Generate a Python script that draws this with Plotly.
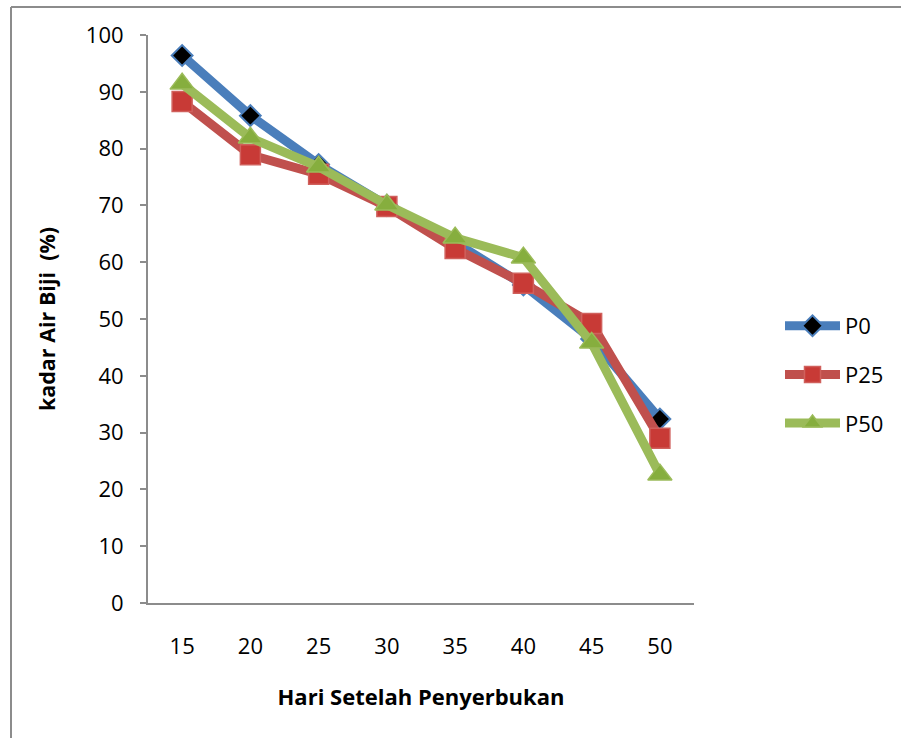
import plotly.graph_objects as go

days = ["15", "20", "25", "30", "35", "40", "45", "50"]
p0 = [96.4, 85.8, 77.2, 70.0, 63.5, 56.0, 46.5, 32.4]
p25 = [88.3, 78.9, 75.5, 69.8, 62.4, 56.3, 49.2, 29.0]
p50 = [91.4, 81.9, 76.8, 70.1, 64.3, 60.8, 45.8, 22.6]
y_ticks = [0, 10, 20, 30, 40, 50, 60, 70, 80, 90, 100]

FONT = "Open Sans"
W, H = 901, 738
L, R, T, B = 148, 694, 35, 603

def px_x(px):
    return (px - L) / (R - L)

def px_y(py):
    return (B - py) / (B - T)

fig = go.Figure()
fig.add_trace(go.Scatter(
    x=days, y=p0, name="P0", mode="lines+markers", legendgroup="a",
    line=dict(color="#4A7EBB", width=9),
    marker=dict(symbol="diamond", size=16, color="#000000",
                line=dict(color="#4A7EBB", width=2)),
))
fig.add_trace(go.Scatter(
    x=days, y=p25, name="P25", mode="lines+markers", legendgroup="b",
    line=dict(color="#C0504D", width=9),
    marker=dict(symbol="square", size=20, color="#C83A36",
                line=dict(color="#D0605C", width=1.5)),
))
fig.add_trace(go.Scatter(
    x=days, y=p50, name="P50", mode="lines+markers", legendgroup="c",
    line=dict(color="#9BBB59", width=9),
    marker=dict(symbol="triangle-up", size=21, color="#86AE3E",
                line=dict(color="#9BBB59", width=1.5)),
))

fig.update_layout(
    width=W, height=H,
    margin=dict(l=L, r=W - R, t=T, b=H - B, pad=0),
    paper_bgcolor="white", plot_bgcolor="white",
    font=dict(family=FONT, size=22, color="#000000"),
    showlegend=True,
    legend=dict(x=px_x(780), y=px_y(305), xanchor="left", yanchor="top",
                font=dict(family=FONT, size=22), tracegroupgap=17,
                bgcolor="rgba(0,0,0,0)", itemwidth=55),
    xaxis=dict(
        type="category", categoryorder="array", categoryarray=days,
        range=[-0.5, 7.5], showgrid=False, zeroline=False,
        showline=True, linecolor="#8C8C8C", linewidth=2,
        ticks="", tickfont=dict(family=FONT, size=22),
        ticklabelstandoff=23,
        title=dict(text="<b>Hari Setelah Penyerbukan</b>",
                   font=dict(family=FONT, size=22), standoff=30),
    ),
    yaxis=dict(
        range=[0, 100], tickvals=y_ticks, showgrid=False, zeroline=False,
        showline=True, linecolor="#8C8C8C", linewidth=2,
        ticks="outside", ticklen=6, tickcolor="#8C8C8C", tickwidth=2,
        tickfont=dict(family=FONT, size=22), ticklabelstandoff=12,
        title=dict(text="<b>kadar Air Biji\u00a0 (%)</b>",
                   font=dict(family=FONT, size=21.5), standoff=24),
    ),
    shapes=[
        dict(type="line", xref="paper", yref="paper",
             x0=px_x(11), x1=px_x(11), y0=px_y(7), y1=px_y(760),
             line=dict(color="#8C8C8C", width=2)),
        dict(type="line", xref="paper", yref="paper",
             x0=px_x(11), x1=px_x(905), y0=px_y(7), y1=px_y(7),
             line=dict(color="#8C8C8C", width=2)),
        dict(type="line", xref="paper", yref="paper",
             x0=px_x(142), x1=px_x(148), y0=0, y1=0,
             line=dict(color="#8C8C8C", width=2)),
    ],
)

fig.write_html("out.html")
